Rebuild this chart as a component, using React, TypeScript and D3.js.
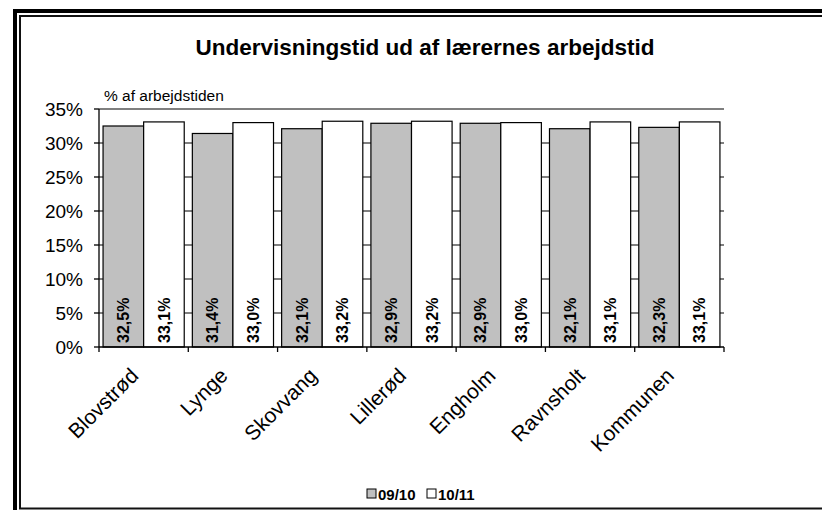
import React from "react";
import * as d3 from "d3";

const categories = ["Blovstrød", "Lynge", "Skovvang", "Lillerød", "Engholm", "Ravnsholt", "Kommunen"];
const seriesNames = ["09/10", "10/11"];
const values0910 = [32.5, 31.4, 32.1, 32.9, 32.9, 32.1, 32.3];
const values1011 = [33.1, 33.0, 33.2, 33.2, 33.0, 33.1, 33.1];
const yTicks = [0, 5, 10, 15, 20, 25, 30, 35];
const title = "Undervisningstid ud af lærernes arbejdstid";
const yAxisTitle = "% af arbejdstiden";

const W = 822;
const H = 510;
const FONT = "'Liberation Sans', Arial, sans-serif";
const fills = ["#C0C0C0", "#FFFFFF"];

export default function App() {
  const x0 = 99, x1 = 724, yBot = 347, yTop = 109;
  const x = d3.scaleBand<string>().domain(categories).range([x0, x1]).paddingInner(0).paddingOuter(0);
  const xs = d3.scaleBand<string>().domain(seriesNames).range([0, x.bandwidth()]).paddingInner(0).paddingOuter(0.1);
  const y = d3.scaleLinear().domain([0, 35]).range([yBot, yTop]);
  const series = [values0910, values1011];
  const fmt = (v: number) => v.toFixed(1).replace(".", ",") + "%";

  return (
    <svg width={W} height={H} style={{ position: "absolute", left: 0, top: 0, background: "#fff" }} fontFamily={FONT}>
      <rect x={0} y={0} width={W} height={H} fill="#fff" />
      {/* frame */}
      <rect x={15} y={11} width={W + 20} height={H + 20} fill="none" stroke="#000" strokeWidth={4} />
      <rect x={20} y={16} width={W + 20} height={492.5} fill="none" stroke="#111" strokeWidth={2} />

      <text x={425} y={55} textAnchor="middle" fontWeight="bold" fontSize={22.5} fill="#000">{title}</text>

      {/* gridlines */}
      {yTicks.filter(t => t > 0).map(t => (
        <line key={"g" + t} x1={x0} x2={x1} y1={y(t)} y2={y(t)} stroke="#555" strokeWidth={1.3} />
      ))}

      {/* bars */}
      {series.map((vals, si) =>
        categories.map((c, i) => {
          const bx = (x(c) as number) + (xs(seriesNames[si]) as number);
          const by = y(vals[i]);
          return (
            <rect key={si + "-" + c} x={bx} y={by} width={xs.bandwidth()} height={yBot - by}
              fill={fills[si]} stroke="#000" strokeWidth={1.2} />
          );
        })
      )}

      {/* data labels */}
      {series.map((vals, si) =>
        categories.map((c, i) => {
          const cx = (x(c) as number) + (xs(seriesNames[si]) as number) + xs.bandwidth() / 2;
          return (
            <text key={"l" + si + c} transform={`translate(${cx + 5.8},343) rotate(-90)`}
              fontWeight="bold" fontSize={16} fill="#000">{fmt(vals[i])}</text>
          );
        })
      )}

      {/* y axis */}
      <line x1={x0} x2={x0} y1={yTop} y2={yBot} stroke="#000" strokeWidth={1.3} />
      {yTicks.map(t => (
        <g key={"y" + t}>
          <line x1={x0 - 5} x2={x0} y1={y(t)} y2={y(t)} stroke="#000" strokeWidth={1.3} />
          <text x={83} y={y(t) + 6.5} textAnchor="end" fontSize={19} fill="#000">{t + "%"}</text>
        </g>
      ))}
      <text x={104} y={101} fontSize={15.5} fill="#000">{yAxisTitle}</text>

      {/* x axis */}
      <line x1={x0} x2={x1} y1={yBot} y2={yBot} stroke="#000" strokeWidth={1.3} />
      {categories.map((c, i) => (
        <line key={"xt" + c} x1={x(c) as number} x2={x(c) as number} y1={yBot} y2={yBot + 5} stroke="#000" strokeWidth={1.3} />
      ))}
      <line x1={x1} x2={x1} y1={yBot} y2={yBot + 5} stroke="#000" strokeWidth={1.3} />
      {categories.map(c => {
        const cx = (x(c) as number) + x.bandwidth() / 2;
        return (
          <text key={"xl" + c} transform={`translate(${cx - 4},${yBot + 30}) rotate(-45)`} textAnchor="end"
            fontSize={21} fill="#000">{c}</text>
        );
      })}

      {/* legend */}
      <g fontWeight="bold" fontSize={15}>
        <rect x={367} y={489} width={9} height={9} fill={fills[0]} stroke="#000" strokeWidth={1} />
        <text x={378} y={499.5} fill="#000">{seriesNames[0]}</text>
        <rect x={427} y={489} width={9} height={9} fill={fills[1]} stroke="#000" strokeWidth={1} />
        <text x={438} y={499.5} fill="#000">{seriesNames[1]}</text>
      </g>
    </svg>
  );
}
